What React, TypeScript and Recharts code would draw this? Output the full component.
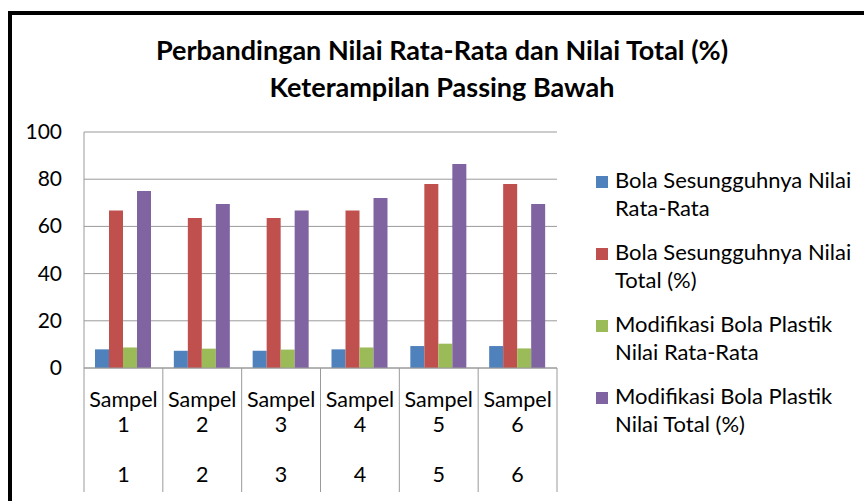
import { BarChart, Bar, XAxis, YAxis, CartesianGrid } from 'recharts';

const categories = ['Sampel 1', 'Sampel 2', 'Sampel 3', 'Sampel 4', 'Sampel 5', 'Sampel 6'];
const groupLabels = ['1', '2', '3', '4', '5', '6'];
const bolaRata = [7.9, 7.3, 7.3, 7.9, 9.3, 9.3];
const bolaTotal = [66.7, 63.6, 63.6, 66.7, 78, 78];
const modRata = [8.7, 8.2, 7.8, 8.7, 10.3, 8.3];
const modTotal = [75, 69.5, 66.7, 72, 86.4, 69.5];
const yTicks = [0, 20, 40, 60, 80, 100];

const SERIES = [
  { key: 'bolaRata', name: 'Bola Sesungguhnya Nilai Rata-Rata', lines: ['Bola Sesungguhnya Nilai', 'Rata-Rata'], color: '#4F81BD' },
  { key: 'bolaTotal', name: 'Bola Sesungguhnya Nilai Total (%)', lines: ['Bola Sesungguhnya Nilai', 'Total (%)'], color: '#C0504D' },
  { key: 'modRata', name: 'Modifikasi Bola Plastik Nilai Rata-Rata', lines: ['Modifikasi Bola Plastik', 'Nilai Rata-Rata'], color: '#9BBB59' },
  { key: 'modTotal', name: 'Modifikasi Bola Plastik Nilai Total (%)', lines: ['Modifikasi Bola Plastik', 'Nilai Total (%)'], color: '#8064A2' },
];

const data = categories.map((c, i) => ({
  name: c,
  group: groupLabels[i],
  bolaRata: bolaRata[i],
  bolaTotal: bolaTotal[i],
  modRata: modRata[i],
  modTotal: modTotal[i],
}));

const FONT = 'Lato, "Open Sans", sans-serif';
const W = 864;
const H = 501;
const MARGIN = { top: 132, right: 307, bottom: 0, left: 20 };
const Y_AXIS_W = 64;
const X_AXIS_H = 133;
const PLOT_W = W - MARGIN.right - MARGIN.left - Y_AXIS_W;
const BAND = PLOT_W / categories.length;
const GRID = '#9A9A9A';

// two-level category axis: "Sampel / n" then the group number, with separators
// eslint-disable-next-line @typescript-eslint/no-explicit-any
const XTick = (props: any) => {
  const { x, y, payload, index } = props;
  const parts = String(payload.value).split(' ');
  const group = data[index]?.group ?? '';
  const left = x - BAND / 2;
  const right = x + BAND / 2;
  return (
    <g>
      <line x1={left} y1={y} x2={left} y2={y + 124} stroke={GRID} strokeWidth={1} />
      {index === categories.length - 1 && (
        <line x1={right} y1={y} x2={right} y2={y + 124} stroke={GRID} strokeWidth={1} />
      )}
      <text x={x} y={y + 39} textAnchor="middle" fontFamily={FONT} fontSize={21.5} fill="#000">
        {parts[0]}
      </text>
      <text x={x} y={y + 64} textAnchor="middle" fontFamily={FONT} fontSize={21.5} fill="#000">
        {parts[1]}
      </text>
      <text x={x} y={y + 114} textAnchor="middle" fontFamily={FONT} fontSize={21.5} fill="#000">
        {group}
      </text>
    </g>
  );
};

// eslint-disable-next-line @typescript-eslint/no-explicit-any
const YTick = (props: any) => {
  const { y, payload } = props;
  return (
    <text x={62} y={y + 7} textAnchor="end" fontFamily={FONT} fontSize={21} fill="#000">
      {payload.value}
    </text>
  );
};

const LegendBox = () => (
  <div
    style={{
      position: 'absolute',
      left: 596,
      top: 166,
      width: 268,
      fontFamily: FONT,
      fontSize: 22,
      color: '#000',
      lineHeight: '28px',
      whiteSpace: 'nowrap',
    }}
  >
    {SERIES.map((s) => (
      <div key={s.key} style={{ position: 'relative', height: 72, paddingLeft: 19 }}>
        <span
          style={{
            position: 'absolute',
            left: 0,
            top: 10,
            width: 12,
            height: 12,
            background: s.color,
          }}
        />
        <div>{s.lines[0]}</div>
        <div>{s.lines[1]}</div>
      </div>
    ))}
  </div>
);

export default function App() {
  return (
    <div style={{ position: 'absolute', left: 0, top: 0, width: W, height: H, overflow: 'hidden', background: '#fff' }}>
      <div
        style={{
          position: 'absolute',
          left: 8,
          top: 11,
          width: 900,
          height: 600,
          border: '4px solid #000',
        }}
      />
      <div
        style={{
          position: 'absolute',
          left: 0,
          top: 31,
          width: 884,
          textAlign: 'center',
          fontFamily: FONT,
          fontWeight: 'bold',
          fontSize: 27,
          lineHeight: '37px',
          color: '#000',
        }}
      >
        <div>Perbandingan Nilai Rata-Rata dan Nilai Total (%)</div>
        <div>Keterampilan Passing Bawah</div>
      </div>
      <div style={{ position: 'absolute', left: 0, top: 0 }}>
        <BarChart
          width={W}
          height={H}
          data={data}
          margin={MARGIN}
          barCategoryGap={11}
          barGap={0}
        >
          <CartesianGrid horizontal vertical={false} stroke={GRID} strokeWidth={1} />
          <XAxis
            dataKey="name"
            height={X_AXIS_H}
            interval={0}
            tickLine={false}
            tickSize={0}
            tickMargin={0}
            axisLine={{ stroke: GRID }}
            tick={<XTick />}
          />
          <YAxis
            width={Y_AXIS_W}
            domain={[0, 100]}
            ticks={yTicks}
            tickLine={false}
            axisLine={{ stroke: GRID }}
            tick={<YTick />}
          />
          {SERIES.map((s) => (
            <Bar key={s.key} dataKey={s.key} name={s.name} fill={s.color} isAnimationActive={false} />
          ))}
        </BarChart>
      </div>
      <LegendBox />
    </div>
  );
}
